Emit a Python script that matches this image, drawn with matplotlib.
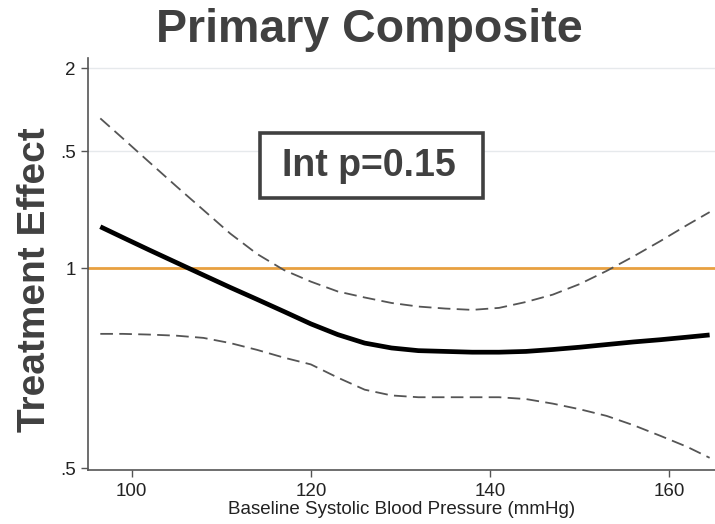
import numpy as np
import matplotlib
matplotlib.use('Agg')
import matplotlib.pyplot as plt
from matplotlib.patches import Rectangle


STYLE = {
    'figure.facecolor': 'white',
    'axes.facecolor': 'white',
    'axes.edgecolor': '#555555',
    'xtick.color': '#555555',
    'ytick.color': '#555555',
    'xtick.labelcolor': '#222222',
    'ytick.labelcolor': '#222222',
    'font.family': ['Liberation Sans', 'DejaVu Sans'],
    'font.size': 13.5,
}

# baseline SBP (mmHg)
sbp = [96.5, 99, 102, 105, 108, 111, 114, 117, 120, 123, 126, 129,
       132, 135, 138, 141, 144, 147, 150, 153, 156, 159, 162, 164.5]

# treatment effect estimate and 95% band
effect = [1.154, 1.112, 1.064, 1.019, 0.976, 0.935, 0.897, 0.860,
          0.824, 0.794, 0.771, 0.758, 0.751, 0.749, 0.747, 0.747,
          0.749, 0.754, 0.760, 0.767, 0.774, 0.780, 0.787, 0.793]
upper = [1.680, 1.568, 1.442, 1.327, 1.223, 1.127, 1.050, 0.993,
         0.954, 0.922, 0.903, 0.886, 0.875, 0.869, 0.865, 0.871,
         0.889, 0.912, 0.946, 0.990, 1.041, 1.098, 1.161, 1.214]
lower = [0.796, 0.796, 0.794, 0.791, 0.785, 0.771, 0.753, 0.733,
         0.716, 0.684, 0.656, 0.643, 0.639, 0.639, 0.639, 0.639,
         0.635, 0.625, 0.613, 0.599, 0.580, 0.559, 0.538, 0.518]

xticks = [100, 120, 140, 160]
yticks = [2, 1.5, 1, 0.5]
ytick_labels = ['2', '.5', '1', '.5']
reference = 1.0

TITLE = 'Primary Composite'
INT_P = 'Int p=0.15'


def main():
    plt.rcParams.update(STYLE)
    fig = plt.figure(figsize=(7.15, 5.24), dpi=100)
    ax = fig.add_axes([0.1235, 0.103, 0.8765, 0.786])

    ax.set_yscale('log')
    ax.set_xlim(95.16, 165.1)
    ax.set_ylim(0.4965, 2.07)

    # light gridlines at the upper ticks
    for yv in yticks[:2]:
        ax.axhline(yv, color='#e6e9ec', linewidth=1.0, zorder=0)
    ax.axhline(reference, color='#E8A040', linewidth=2.0, zorder=1)

    ax.plot(sbp, upper, color='#555555', linewidth=1.3,
            linestyle=(0, (7, 3.5)), zorder=2)
    ax.plot(sbp, lower, color='#555555', linewidth=1.3,
            linestyle=(0, (7, 3.5)), zorder=2)
    ax.plot(sbp, effect, color='black', linewidth=3.4,
            solid_capstyle='butt', solid_joinstyle='round', zorder=3)

    ax.set_xticks(xticks)
    ax.set_xticklabels([str(t) for t in xticks])
    ax.set_yticks(yticks)
    ax.set_yticklabels(ytick_labels)
    ax.minorticks_off()
    ax.tick_params(axis='both', length=5, width=1.0, direction='out', pad=4)

    for side in ['top', 'right']:
        ax.spines[side].set_visible(False)
    for side in ['left', 'bottom']:
        ax.spines[side].set_linewidth(1.2)

    ax.set_xlabel('Baseline Systolic Blood Pressure (mmHg)', labelpad=1,
                  color='#222222')

    fig.text(0.049, 0.466, 'Treatment Effect', rotation=90, ha='center',
             va='center', fontsize=28, fontweight='bold', color='#404040')
    fig.text(0.517, 0.942, TITLE, ha='center', va='center', fontsize=33.5,
             fontweight='bold', color='#404040')

    # annotation box with interaction p-value
    ax.add_patch(Rectangle((0.2743, 0.660), 0.356, 0.158,
                           transform=ax.transAxes, facecolor='white',
                           edgecolor='#404040', linewidth=2.6, zorder=4))
    ax.text(0.448, 0.738, INT_P, transform=ax.transAxes, ha='center',
            va='center', fontsize=27, fontweight='bold', color='#404040',
            zorder=5)

    fig.savefig('out.png', dpi=100, facecolor='white')
    plt.close(fig)


if __name__ == '__main__':
    main()
